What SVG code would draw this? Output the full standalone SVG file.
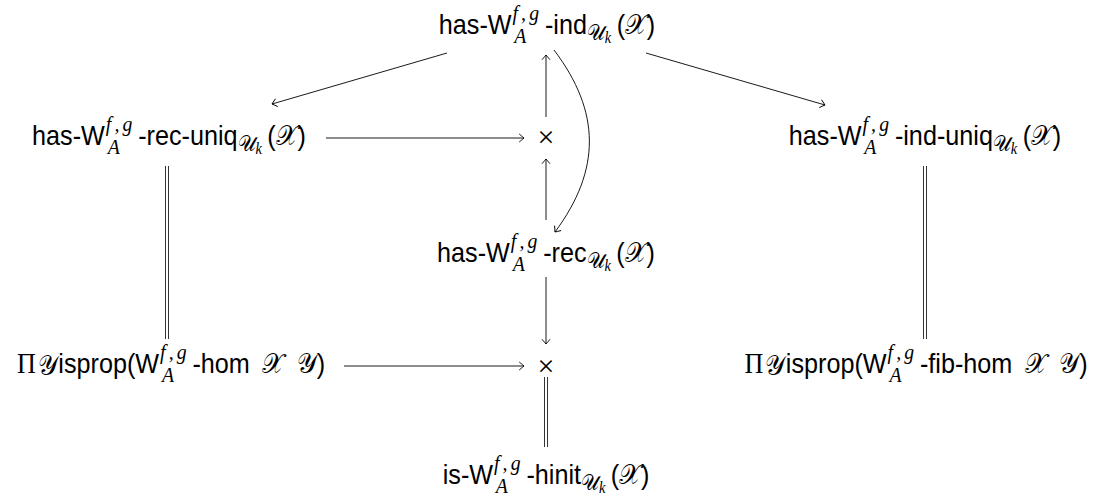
<svg xmlns="http://www.w3.org/2000/svg" width="1108" height="499" viewBox="0 0 1108 499">
<style>
.t{font-family:"Liberation Sans",Arial,sans-serif;font-size:28px;fill:#000}
.it{font-family:"Liberation Serif","Times New Roman",serif;font-style:italic;font-size:22px}
.sup{letter-spacing:3.5px}
.cal{font-family:"DejaVu Serif","DejaVu Sans",serif;font-style:normal;font-size:28px}
.cs{font-family:"DejaVu Serif","DejaVu Sans",serif;font-size:22px}
.k{font-family:"Liberation Serif",serif;font-style:italic;font-size:16px}
.pi{font-family:"Liberation Serif",serif;font-size:29px}
.x{font-family:"Liberation Serif",serif;font-size:30px;fill:#000}
.ln{fill:none;stroke:#000;stroke-width:0.9}
.dbl{fill:none;stroke:#000;stroke-width:0.8}
</style>
<defs>
<marker id="ah" viewBox="-6 -5 8 10" refX="0" refY="0" markerWidth="8" markerHeight="10" markerUnits="userSpaceOnUse" orient="auto">
<path d="M-4.5,-3.8 Q-1.2,-1 0,0 Q-1.2,1 -4.5,3.8" fill="none" stroke="#000" stroke-width="0.9" stroke-linecap="round"/>
</marker>
</defs>

<g id="node-ind">
<text class="t" transform="translate(547,34) scale(0.9,1)" text-anchor="middle">has-W<tspan class="it sup" dx="1" dy="-14">f,g</tspan><tspan class="it" dx="-31" dy="23">A</tspan><tspan dx="20.5" dy="-9">-ind</tspan><tspan class="cs" dy="6">𝒰</tspan><tspan class="k" dy="3">k</tspan><tspan dx="6" dy="-9">(</tspan><tspan class="cal">𝒳</tspan>)</text>
</g>

<g id="node-rec-uniq">
<text class="t" transform="translate(169,145) scale(0.9,1)" text-anchor="middle">has-W<tspan class="it sup" dx="1" dy="-14">f,g</tspan><tspan class="it" dx="-31" dy="23">A</tspan><tspan dx="20.5" dy="-9">-rec-uniq</tspan><tspan class="cs" dy="6">𝒰</tspan><tspan class="k" dy="3">k</tspan><tspan dx="6" dy="-9">(</tspan><tspan class="cal">𝒳</tspan>)</text>
</g>

<g id="node-prod1">
<text class="x" x="546" y="147" text-anchor="middle">×</text>
</g>

<g id="node-ind-uniq">
<text class="t" transform="translate(925,145) scale(0.9,1)" text-anchor="middle">has-W<tspan class="it sup" dx="1" dy="-14">f,g</tspan><tspan class="it" dx="-31" dy="23">A</tspan><tspan dx="20.5" dy="-9">-ind-uniq</tspan><tspan class="cs" dy="6">𝒰</tspan><tspan class="k" dy="3">k</tspan><tspan dx="6" dy="-9">(</tspan><tspan class="cal">𝒳</tspan>)</text>
</g>

<g id="node-rec">
<text class="t" transform="translate(546,262) scale(0.9,1)" text-anchor="middle">has-W<tspan class="it sup" dx="1" dy="-14">f,g</tspan><tspan class="it" dx="-31" dy="23">A</tspan><tspan dx="20.5" dy="-9">-rec</tspan><tspan class="cs" dy="6">𝒰</tspan><tspan class="k" dy="3">k</tspan><tspan dx="6" dy="-9">(</tspan><tspan class="cal">𝒳</tspan>)</text>
</g>

<g id="node-isprop-hom">
<text class="t" transform="translate(171,373) scale(0.9,1)" text-anchor="middle"><tspan class="pi">Π</tspan><tspan class="cal" dx="2" dy="2">𝒴</tspan><tspan dx="1" dy="-2">isprop(W</tspan><tspan class="it sup" dx="1" dy="-14">f,g</tspan><tspan class="it" dx="-31" dy="23">A</tspan><tspan dx="20.5" dy="-9">-hom</tspan><tspan class="cal" dx="14">𝒳</tspan><tspan class="cal" dx="14">𝒴</tspan>)</text>
</g>

<g id="node-prod2">
<text class="x" x="546" y="376" text-anchor="middle">×</text>
</g>

<g id="node-isprop-fib-hom">
<text class="t" transform="translate(916,373) scale(0.9,1)" text-anchor="middle"><tspan class="pi">Π</tspan><tspan class="cal" dx="2" dy="2">𝒴</tspan><tspan dx="1" dy="-2">isprop(W</tspan><tspan class="it sup" dx="1" dy="-14">f,g</tspan><tspan class="it" dx="-31" dy="23">A</tspan><tspan dx="20.5" dy="-9">-fib-hom</tspan><tspan class="cal" dx="14">𝒳</tspan><tspan class="cal" dx="14">𝒴</tspan>)</text>
</g>

<g id="node-hinit">
<text class="t" transform="translate(546,484) scale(0.9,1)" text-anchor="middle">is-W<tspan class="it sup" dx="1" dy="-14">f,g</tspan><tspan class="it" dx="-31" dy="23">A</tspan><tspan dx="20.5" dy="-9">-hinit</tspan><tspan class="cs" dy="6">𝒰</tspan><tspan class="k" dy="3">k</tspan><tspan dx="6" dy="-9">(</tspan><tspan class="cal">𝒳</tspan>)</text>
</g>

<g id="connectors">
<line class="ln" x1="447" y1="53" x2="272" y2="104" marker-end="url(#ah)"/>
<line class="ln" x1="646" y1="53" x2="825" y2="105" marker-end="url(#ah)"/>
<line class="ln" x1="326" y1="138" x2="524" y2="138" marker-end="url(#ah)"/>
<line class="ln" x1="546" y1="117" x2="546" y2="55" marker-end="url(#ah)"/>
<line class="ln" x1="546" y1="220" x2="546" y2="159" marker-end="url(#ah)"/>
<path class="ln" d="M554,50 C601,112 601,170 555,232" marker-end="url(#ah)"/>
<line class="ln" x1="546" y1="277" x2="546" y2="344" marker-end="url(#ah)"/>
<line class="ln" x1="344" y1="366" x2="524" y2="366" marker-end="url(#ah)"/>
<line class="dbl" x1="544.5" y1="377" x2="544.5" y2="447"/>
<line class="dbl" x1="547.5" y1="377" x2="547.5" y2="447"/>
<line class="dbl" x1="165.5" y1="166" x2="165.5" y2="339"/>
<line class="dbl" x1="168.5" y1="166" x2="168.5" y2="339"/>
<line class="dbl" x1="923.5" y1="166" x2="923.5" y2="339"/>
<line class="dbl" x1="926.5" y1="166" x2="926.5" y2="339"/>
</g>
</svg>
